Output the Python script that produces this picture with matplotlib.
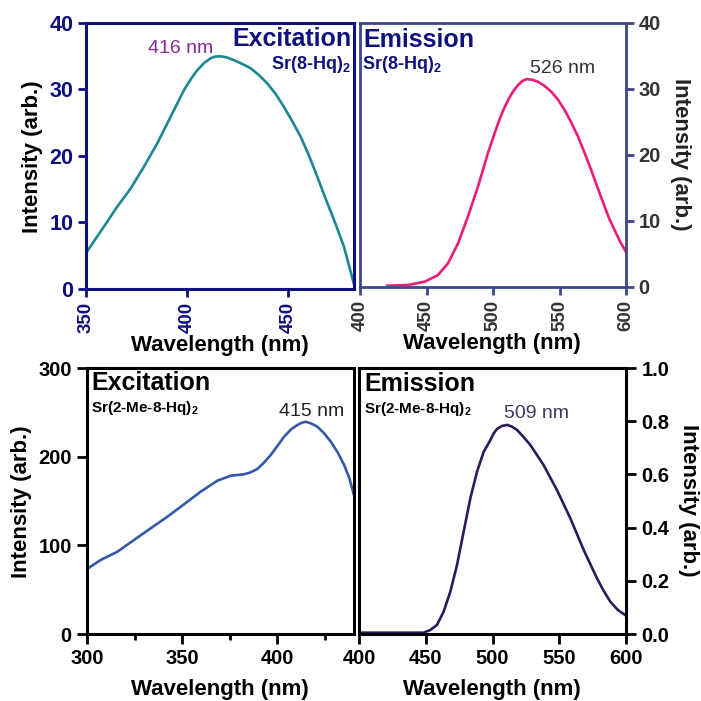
import matplotlib
matplotlib.use("Agg")
import matplotlib.pyplot as plt

plt.rcParams['font.family'] = ['Liberation Sans', 'DejaVu Sans']
plt.rcParams['mathtext.fontset'] = 'custom'
plt.rcParams['mathtext.rm'] = 'Liberation Sans'
plt.rcParams['mathtext.bf'] = 'Liberation Sans:bold'

# ---- data ----
exc1_x = [350, 358.9, 365.5, 372.1, 378.7, 385.3, 391.9, 398.5, 402, 405.1, 408.5, 411.7, 414,
          416.7, 420, 423.3, 427, 431.5, 435.5, 439.8, 444, 448, 452, 456.3, 460.5, 464.5,
          468.5, 472.8, 477.7, 482.7]
exc1_y = [5.4, 9.4, 12.4, 15.1, 18.4, 21.9, 25.9, 29.9, 31.6, 32.9, 34.0, 34.7, 34.95,
          35.0, 34.8, 34.4, 33.9, 33.2, 32.2, 30.9, 29.3, 27.4, 25.3, 22.9, 20.0, 16.9,
          13.7, 10.4, 6.4, 0.7]

em1_x = [420.5, 436.1, 448.6, 458.6, 466.2, 473.7, 481.2, 488.7, 496.2, 503.8, 507.5, 511.3,
         515, 518.8, 522, 525.1, 529.5, 533.8, 538.5, 543.8, 548.8, 553.9, 558.9, 563.9,
         568.9, 573.9, 578.9, 583.9, 587.5, 591.5, 595.5, 600]
em1_y = [0.2, 0.3, 0.8, 1.8, 3.6, 6.6, 10.7, 15.2, 20.3, 24.8, 26.7, 28.3,
         29.6, 30.6, 31.2, 31.5, 31.4, 31.1, 30.5, 29.6, 28.4, 26.8, 24.9, 22.8,
         20.3, 17.7, 14.9, 12.2, 10.3, 8.6, 6.9, 5.3]

exc2_x = [300, 307.2, 316, 324.7, 333.5, 342.3, 351, 359.8, 368.6, 375.6, 382.6,
          386, 389.6, 393, 396.7, 400, 403.7, 407.5, 410.7, 413, 415.1, 418, 421.2,
          424.5, 428.3, 432, 435.3, 438, 440.5]
exc2_y = [73.3, 83.5, 92.8, 106, 119.2, 132.3, 146.2, 160.5, 172.9, 178.5, 180.1,
          182.3, 186.1, 193, 201.9, 211.5, 222.5, 231, 235.7, 238.3, 239.4, 237.4, 233.8,
          227, 216.9, 204.5, 190.6, 176, 156.8]

em2_x = [400, 423.5, 448.4, 453.4, 458.4, 463.4, 468.4, 473.4, 478.4, 483.4, 488.4,
         493.4, 498.4, 501, 503.4, 507, 510.9, 514.5, 518.4, 523, 528.3, 538.3, 548.3,
         558.3, 568.3, 578.3, 583.3, 588.3, 594, 600]
em2_y = [0.005, 0.005, 0.005, 0.015, 0.034, 0.084, 0.159, 0.259, 0.385, 0.51, 0.61,
         0.685, 0.729, 0.755, 0.771, 0.782, 0.786, 0.780, 0.767, 0.742, 0.711, 0.635, 0.541,
         0.435, 0.316, 0.209, 0.162, 0.121, 0.09, 0.069]

W = H = 701
fig = plt.figure(figsize=(7.01, 7.01), dpi=100)


def rect(l, t, r, b):
    return [l / W, 1 - b / H, (r - l) / W, (b - t) / H]


def ftext(px, py, s, **kw):
    fig.text(px / W, 1 - py / H, s, **kw)


navy = '#10107e'
tr_spine = '#3f4787'
gray = '#333333'

# ---------- top-left: excitation Sr(8-Hq)2 ----------
ax1 = fig.add_axes(rect(86, 23, 354, 289))
ax1.plot(exc1_x, exc1_y, color='#1b8793', lw=1.9)
ax1.set_xlim(350, 482.7)
ax1.set_ylim(0, 40)
ax1.set_xticks([350, 400, 450])
ax1.set_yticks([0, 10, 20, 30, 40])
for s in ax1.spines.values():
    s.set_color(navy)
    s.set_linewidth(2.2)
ax1.tick_params(colors=navy, width=2, length=6, pad=3)
ax1.tick_params(axis='y', labelsize=15.5)
ax1.tick_params(axis='x', labelrotation=90, labelsize=13.5)
for lab in ax1.get_xticklabels() + ax1.get_yticklabels():
    lab.set_fontweight('bold')
    lab.set_color(navy)

# ---------- top-right: emission Sr(8-Hq)2 ----------
ax2 = fig.add_axes(rect(360, 23, 626, 287))
ax2.plot(em1_x, em1_y, color='#ec1c79', lw=1.9)
ax2.set_xlim(400, 600)
ax2.set_ylim(0, 40)
ax2.set_xticks([400, 450, 500, 550, 600])
ax2.set_yticks([0, 10, 20, 30, 40])
ax2.yaxis.tick_right()
for s in ax2.spines.values():
    s.set_color(tr_spine)
    s.set_linewidth(2.0)
ax2.tick_params(colors=tr_spine, width=2, length=6, pad=3, labelcolor=gray)
ax2.tick_params(axis='y', labelsize=14.5)
ax2.tick_params(axis='x', labelrotation=90, labelsize=13.5)
for lab in ax2.get_xticklabels() + ax2.get_yticklabels():
    lab.set_fontweight('bold')

# ---------- bottom-left: excitation Sr(2-Me-8-Hq)2 ----------
ax3 = fig.add_axes(rect(87, 368, 354, 634))
ax3.plot(exc2_x, exc2_y, color='#3459a6', lw=1.9)
ax3.set_xlim(300, 440.5)
ax3.set_ylim(0, 300)
ax3.set_xticks([300, 350, 400])
ax3.set_xticks([325, 375, 425], minor=True)
ax3.set_yticks([0, 100, 200, 300])
for s in ax3.spines.values():
    s.set_color('black')
    s.set_linewidth(2.2)
ax3.tick_params(which='major', colors='black', width=2, length=7, pad=4, labelsize=14.5)
ax3.tick_params(which='minor', colors='black', width=2, length=4)
for lab in ax3.get_xticklabels() + ax3.get_yticklabels():
    lab.set_fontweight('bold')

# ---------- bottom-right: emission Sr(2-Me-8-Hq)2 ----------
ax4 = fig.add_axes(rect(359, 368, 626, 634))
ax4.plot(em2_x, em2_y, color='#2c1a5c', lw=1.9)
ax4.set_xlim(400, 600)
ax4.set_ylim(0, 1.0)
ax4.set_xticks([400, 450, 500, 550, 600])
ax4.set_yticks([0.0, 0.2, 0.4, 0.6, 0.8, 1.0])
ax4.set_yticklabels(['0.0', '0.2', '0.4', '0.6', '0.8', '1.0'])
ax4.yaxis.tick_right()
for s in ax4.spines.values():
    s.set_color('black')
    s.set_linewidth(2.2)
ax4.tick_params(colors='black', width=2, length=7, pad=4, labelsize=14.5)
for lab in ax4.get_xticklabels() + ax4.get_yticklabels():
    lab.set_fontweight('bold')

# ---------- axis labels ----------
lab_kw = dict(fontsize=16, fontweight='bold', color='black', ha='center', va='center')
ftext(33, 157, 'Intensity (arb.)', rotation=90, **lab_kw)
ftext(220, 345, 'Wavelength (nm)', **lab_kw)
ftext(681, 154, 'Intensity (arb.)', rotation=-90, **{**lab_kw, 'color': '#222222'})
ftext(492, 344, 'Wavelength (nm)', **lab_kw)
ftext(22, 502, 'Intensity (arb.)', rotation=90, **lab_kw)
ftext(220, 689, 'Wavelength (nm)', **lab_kw)
ftext(689, 500, 'Intensity (arb.)', rotation=-90, **lab_kw)
ftext(492, 689, 'Wavelength (nm)', **lab_kw)

# ---------- panel annotations ----------
ftext(352, 46, 'Excitation', fontsize=18, fontweight='bold', color=navy, ha='right', va='baseline')
ftext(351, 69, r'Sr(8-Hq)$_\mathbf{2}$', fontsize=13, fontweight='bold', color=navy, ha='right', va='baseline')
ftext(148, 53, '416 nm', fontsize=14, color='#862a9c', ha='left', va='baseline')

ftext(363, 47, 'Emission', fontsize=18, fontweight='bold', color=navy, ha='left', va='baseline')
ftext(362, 69, r'Sr(8-Hq)$_\mathbf{2}$', fontsize=13, fontweight='bold', color=navy, ha='left', va='baseline')
ftext(530, 73, '526 nm', fontsize=14, color=gray, ha='left', va='baseline')

ftext(91, 390, 'Excitation', fontsize=18, fontweight='bold', color='black', ha='left', va='baseline')
ftext(91, 412, r'Sr(2-Me-8-Hq)$_\mathbf{2}$', fontsize=11, fontweight='bold', color='black', ha='left', va='baseline')
ftext(279, 416, '415 nm', fontsize=14, color='#222222', ha='left', va='baseline')

ftext(364, 391, 'Emission', fontsize=18, fontweight='bold', color='black', ha='left', va='baseline')
ftext(364, 413, r'Sr(2-Me-8-Hq)$_\mathbf{2}$', fontsize=11, fontweight='bold', color='black', ha='left', va='baseline')
ftext(504, 418, '509 nm', fontsize=14, color='#3c3c5e', ha='left', va='baseline')

fig.savefig('out.png', dpi=100)
